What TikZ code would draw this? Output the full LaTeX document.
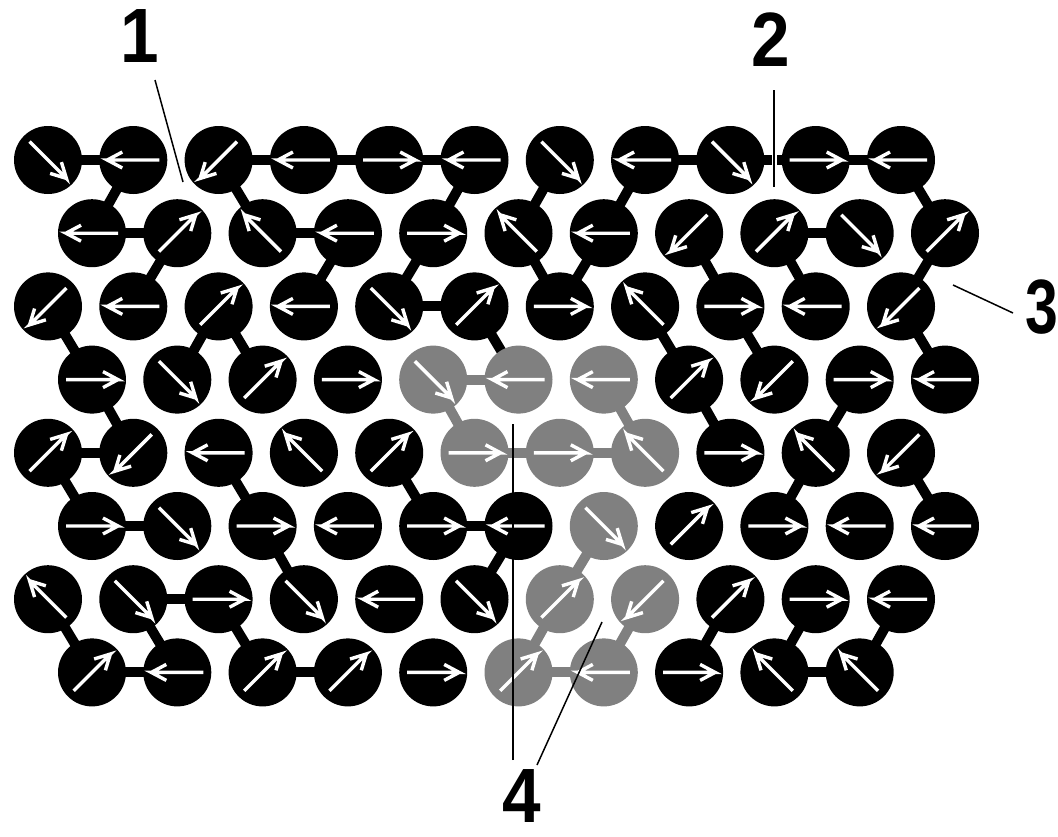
\documentclass[tikz,border=0pt]{standalone}
\usepackage{fontspec}
\setmainfont{Liberation Sans}
\usetikzlibrary{backgrounds,calc}
\definecolor{spingray}{RGB}{128,128,128}
\newcommand\spinar[2]{%
  \draw[spin] ($(#1)+({#2+180}:26pt)$) -- ($(#1)+(#2:26pt)$) -- ++({#2+152}:17pt)
    ($(#1)+(#2:26pt)$) -- ++({#2-152}:17pt);}
\begin{document}
\begin{tikzpicture}[x=1pt,y=-1pt,
  ball/.style={circle,fill=black,minimum size=68pt,inner sep=0pt},
  gball/.style={ball,fill=spingray},
  bond/.style={line width=10pt,black},
  gbond/.style={line width=10pt,spingray},
  spin/.style={white,line width=3.4pt,line join=miter},
  lead/.style={black,line width=1.5pt},
  lab/.style={font=\bfseries\fontsize{77}{77}\selectfont,inner sep=0pt,xscale=0.9}]
\useasboundingbox (0,0) rectangle (1058,836);
% rows of spins
\foreach \row/\list in {
 1/{315/ball,180/ball,225/ball,180/ball,0/ball,180/ball,315/ball,180/ball,315/ball,0/ball,180/ball},
 2/{180/ball,45/ball,135/ball,180/ball,0/ball,135/ball,180/ball,225/ball,45/ball,315/ball,45/ball},
 3/{225/ball,180/ball,45/ball,180/ball,315/ball,45/ball,0/ball,135/ball,0/ball,180/ball,225/ball},
 4/{0/ball,315/ball,45/ball,0/ball,315/gball,180/gball,180/gball,45/ball,225/ball,0/ball,180/ball},
 5/{45/ball,225/ball,180/ball,135/ball,45/ball,0/gball,0/gball,135/gball,0/ball,135/ball,225/ball},
 6/{0/ball,315/ball,0/ball,180/ball,0/ball,180/ball,315/gball,45/ball,0/ball,180/ball,180/ball},
 7/{135/ball,315/ball,0/ball,315/ball,180/ball,315/ball,45/gball,225/gball,45/ball,0/ball,180/ball},
 8/{45/ball,180/ball,45/ball,45/ball,0/ball,45/gball,180/gball,0/ball,135/ball,135/ball}} {
  \pgfmathsetmacro\yy{160+73.2*(\row-1)}
  \pgfmathsetmacro\xz{isodd(\row) ? 48 : 92}
  \foreach \a/\s [count=\j] in \list {
    \node[\s] (r\row c\j) at ({\xz+85.3*(\j-1)},\yy) {};
    \spinar{r\row c\j}{\a}
  }
}
% bonds
\begin{scope}[on background layer]
\foreach \p/\q in {r1c1/r1c2,r1c3/r1c4,r1c4/r1c5,r1c5/r1c6,r1c8/r1c9,r1c9/r1c10,r1c10/r1c11,
 r2c1/r2c2,r2c3/r2c4,r2c9/r2c10,r3c5/r3c6,r5c1/r5c2,r6c1/r6c2,r6c5/r6c6,r7c2/r7c3,
 r8c1/r8c2,r8c3/r8c4,r8c9/r8c10,
 r1c2/r2c1,r1c3/r2c3,r1c6/r2c5,r1c7/r2c6,r1c8/r2c7,r1c11/r2c11,
 r2c2/r3c2,r2c4/r3c4,r2c5/r3c5,r2c6/r3c7,r2c7/r3c7,r2c8/r3c9,r2c9/r3c10,r2c11/r3c11,
 r3c1/r4c1,r3c3/r4c2,r3c3/r4c3,r3c6/r4c6,r3c8/r4c8,r3c9/r4c9,r3c11/r4c11,
 r4c1/r5c2,r4c8/r5c9,r4c10/r5c10,
 r5c1/r6c1,r5c3/r6c3,r5c5/r6c5,r5c10/r6c9,r5c11/r6c11,
 r6c3/r7c4,r6c6/r7c6,
 r7c1/r8c1,r7c2/r8c2,r7c3/r8c3,r7c9/r8c8,r7c10/r8c9,r7c11/r8c10}
  \draw[bond] (\p.center) -- (\q.center);
\foreach \p/\q in {r4c5/r4c6,r5c6/r5c7,r5c7/r5c8,r8c6/r8c7,r4c5/r5c6,r4c7/r5c8,
 r6c7/r7c7,r7c7/r8c6,r7c8/r8c7}
  \draw[gbond] (\p.center) -- (\q.center);
\end{scope}
% labels
\node[lab] (lab1) at (140,36) {1};
\node[lab] (lab2) at (771,40) {2};
\node[lab,xscale=0.85] (lab3) at (1042,307) {3};
\node[lab] (lab4) at (522,796) {4};
\coordinate (l1a) at (155,80);  \coordinate (l1b) at (183,182);
\coordinate (l2a) at (774,90);  \coordinate (l2b) at (774,187);
\coordinate (l3a) at (1013,313); \coordinate (l3b) at (953,285);
\coordinate (l4a) at (513,760); \coordinate (l4b) at (513,424);
\coordinate (l4c) at (537,765); \coordinate (l4d) at (602,622);
\draw[lead] (l1a) -- (l1b);
\draw[lead,preaction={draw=white,line width=5pt}] (l2a) -- (l2b);
\draw[lead] (l3a) -- (l3b);
\draw[lead] (l4a) -- (l4b);
\draw[lead] (l4c) -- (l4d);
\end{tikzpicture}
\end{document}
